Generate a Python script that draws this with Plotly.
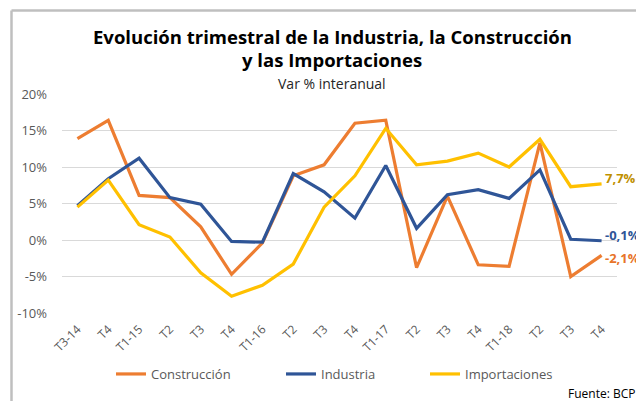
import plotly.graph_objects as go

categories = ["T3-14", "T4", "T1-15", "T2", "T3", "T4", "T1-16", "T2", "T3", "T4",
              "T1-17", "T2", "T3", "T4", "T1-18", "T2", "T3", "T4"]
construccion = [13.9, 16.4, 6.1, 5.8, 1.8, -4.7, -0.4, 8.8, 10.3, 16.0,
                16.4, -3.8, 6.0, -3.4, -3.6, 13.3, -5.0, -2.1]
industria = [4.7, 8.4, 11.2, 5.8, 4.9, -0.2, -0.3, 9.1, 6.6, 3.0,
             10.2, 1.6, 6.2, 6.9, 5.7, 9.6, 0.1, -0.1]
importaciones = [4.5, 8.2, 2.1, 0.4, -4.5, -7.7, -6.2, -3.3, 4.5, 8.8,
                 15.3, 10.3, 10.8, 11.9, 10.0, 13.8, 7.3, 7.7]
yticks = [-10, -5, 0, 5, 10, 15, 20]
ytick_labels = ["-10%", "-5%", "0%", "5%", "10%", "15%", "20%"]

x = list(range(len(categories)))
FONT = "Open Sans, Lato, sans-serif"
ORANGE = "#ED7D31"
BLUE = "#2F5597"
YELLOW = "#FFC000"

W, H = 644.0, 401.0
OFF = 8  # page body margin offset
# plot area in screen pixels: x 62..617, y 94..313
pw, ph = 555.0, 219.0
def px(xp):
    return (xp - 62) / pw
def py(yp):
    return (313 - yp) / ph

fig = go.Figure()
series = [
    ("Construcción", construccion, ORANGE, "legend"),
    ("Industria", industria, BLUE, "legend2"),
    ("Importaciones", importaciones, YELLOW, "legend3"),
]
for name, vals, col, lg in series:
    fig.add_trace(go.Scatter(x=x, y=vals, mode="lines", name=name,
                             line=dict(color=col, width=3.2), legend=lg))

label_cols = {"Construcción": "#E8742A", "Industria": BLUE, "Importaciones": "#BF9000"}
label_shift = {"Construcción": -3, "Industria": 6, "Importaciones": 6}
for name, vals, col, lg in series:
    v = vals[-1]
    fig.add_annotation(x=x[-1], y=v, xref="x", yref="y",
                       text=("%.1f%%" % v).replace(".", ","),
                       showarrow=False, xanchor="left", yanchor="middle",
                       xshift=1, yshift=label_shift[name],
                       font=dict(family=FONT, size=13, color=label_cols[name], weight="bold"))

fig.add_annotation(x=px(332), y=py(46), xref="paper", yref="paper",
                   text="<b>Evolución trimestral de la Industria, la Construcción</b>",
                   showarrow=False, xanchor="center", yanchor="bottom", yshift=-5,
                   font=dict(family=FONT, size=18.5, color="#000000"))
fig.add_annotation(x=px(332), y=py(69), xref="paper", yref="paper",
                   text="<b>y las Importaciones</b>",
                   showarrow=False, xanchor="center", yanchor="bottom", yshift=-5,
                   font=dict(family=FONT, size=18.5, color="#000000"))
fig.add_annotation(x=px(332), y=py(84), xref="paper", yref="paper",
                   text="Var % interanual", showarrow=False,
                   xanchor="center", yanchor="middle",
                   font=dict(family=FONT, size=14, color="#262626"))
fig.add_annotation(x=px(637), y=py(393), xref="paper", yref="paper",
                   text="Fuente: BCP", showarrow=False,
                   xanchor="right", yanchor="middle",
                   font=dict(family=FONT, size=12, color="#000000"))

# chart border (top and left edges visible)
fig.add_shape(type="line", xref="paper", yref="paper",
              x0=px(11.5), x1=px(660), y0=py(10.5), y1=py(10.5),
              line=dict(color="#BFBFBF", width=2.5))
fig.add_shape(type="line", xref="paper", yref="paper",
              x0=px(11.5), x1=px(11.5), y0=py(10.5), y1=py(420),
              line=dict(color="#BFBFBF", width=2.5))

leg_common = dict(orientation="h", yanchor="middle", xanchor="left",
                  xref="container", yref="container",
                  font=dict(family=FONT, size=13, color="#595959"),
                  bgcolor="rgba(0,0,0,0)", itemwidth=30, borderwidth=0)
ly = 1 - (374 - OFF) / H
fig.update_layout(
    width=644, height=401,
    margin=dict(l=62 - OFF, r=644 - 617 + OFF, t=94 - OFF, b=401 - 313 + OFF, autoexpand=False),
    paper_bgcolor="white", plot_bgcolor="white",
    showlegend=True,
    legend=dict(x=103 / W, y=ly, **leg_common),
    legend2=dict(x=273 / W, y=ly, **leg_common),
    legend3=dict(x=417 / W, y=ly, **leg_common),
    xaxis=dict(tickmode="array", tickvals=x, ticktext=categories,
               range=[-0.5, len(categories) - 0.5], tickangle=-45,
               showgrid=False, showline=False, zeroline=False, ticks="",
               ticklabelstandoff=6, automargin=False,
               tickfont=dict(family=FONT, size=12, color="#595959")),
    yaxis=dict(tickmode="array", tickvals=yticks, ticktext=ytick_labels,
               range=[-10, 20], showgrid=True, gridcolor="#D9D9D9", gridwidth=1,
               zeroline=False, showline=False, ticks="", ticklabelstandoff=14,
               automargin=False,
               tickfont=dict(family=FONT, size=13, color="#595959")),
)

fig.write_html("out.html")
